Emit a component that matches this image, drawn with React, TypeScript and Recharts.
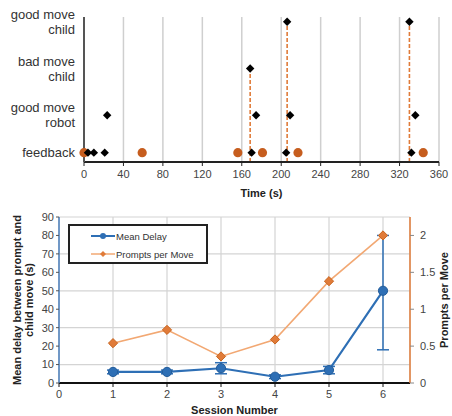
import React from 'react';
import {
  ScatterChart,
  Scatter,
  XAxis,
  YAxis,
  CartesianGrid,
  ReferenceLine,
  ComposedChart,
  Line,
  ErrorBar,
  Legend,
} from 'recharts';

// ---------- Top chart data ----------
const timeTicks = [0, 40, 80, 120, 160, 200, 240, 280, 320, 360];
const rowTicks = [0.2, 1, 2, 3];
const rowLabels: string[][] = [['feedback'], ['good move', 'robot'], ['bad move', 'child'], ['good move', 'child']];
const FEEDBACK_ROW = 0.2;
const ROBOT_ROW = 1;
const BAD_CHILD_ROW = 2;
const GOOD_CHILD_ROW = 3;
const feedbackDiamondTimes = [4, 10, 21, 170, 205, 332];
const feedbackCircleTimes = [0, 59, 156, 181, 217, 344];
const robotMoveTimes = [23.5, 174.5, 209, 336];
const badChildTimes = [168.5];
const goodChildTimes = [206, 330];

// ---------- Bottom chart data ----------
const sessions = [1, 2, 3, 4, 5, 6];
const meanDelay = [6, 6, 8, 3.4, 7, 50];
const delayErrLow = [1, 1, 3, 1, 2, 32];
const delayErrHigh = [1, 1, 3, 1, 2, 30];
const promptsPerMove = [0.54, 0.72, 0.36, 0.59, 1.38, 2.0];
const sessionTicks = [0, 1, 2, 3, 4, 5, 6];
const delayTicks = [0, 10, 20, 30, 40, 50, 60, 70, 80, 90];
const promptTicks = [0, 0.5, 1, 1.5, 2];

const FONT = '"Liberation Sans", Arial, sans-serif';
const BLUE = '#2E6FB5';
const ORANGE_LINE = '#F2A873';
const ORANGE_MARK = '#E07B39';
const ORANGE_DOT = '#C65D1E';

const toPoints = (times: number[], row: number) => times.map((t) => ({ t, row }));

const DiamondShape = (props: any) => {
  const { cx, cy } = props;
  if (cx == null || cy == null) return <g />;
  const r = 4.2;
  return (
    <polygon
      points={`${cx},${cy - r} ${cx + r},${cy} ${cx},${cy + r} ${cx - r},${cy}`}
      fill="#000"
    />
  );
};

const CircleShape = (props: any) => {
  const { cx, cy } = props;
  if (cx == null || cy == null) return <g />;
  return <circle cx={cx} cy={cy} r={4.6} fill={ORANGE_DOT} />;
};

const RowTick = (props: any) => {
  const { y, payload } = props;
  const idx = rowTicks.indexOf(payload.value);
  const lines = idx >= 0 ? rowLabels[idx] : [];
  if (lines.length === 1) {
    return (
      <text x={75} y={y + 4.6} textAnchor="end" fontSize={13} fill="#333" fontFamily={FONT}>
        {lines[0]}
      </text>
    );
  }
  return (
    <text textAnchor="end" fontSize={13} fill="#333" fontFamily={FONT}>
      <tspan x={75} y={y - 7.5 + 4.6}>{lines[0]}</tspan>
      <tspan x={75} y={y + 7.5 + 4.6}>{lines[1]}</tspan>
    </text>
  );
};

const TopChart = () => (
  <ScatterChart width={452} height={200} margin={{ top: 17, right: 13, bottom: 0, left: 0 }}>
    <CartesianGrid vertical horizontal={false} stroke="#cfcfcf" strokeWidth={1.5} />
    <XAxis
      type="number"
      dataKey="t"
      domain={[0, 360]}
      ticks={timeTicks}
      height={38}
      axisLine={{ stroke: '#222', strokeWidth: 2 }}
      tickLine={{ stroke: '#222' }}
      tickSize={4}
      tickMargin={4}
      tick={{ fontSize: 11, fill: '#444', fontFamily: FONT }}
      label={{ value: 'Time (s)', position: 'insideBottom', offset: 3, fontSize: 11, fontWeight: 'bold', fill: '#222', fontFamily: FONT }}
    />
    <YAxis
      type="number"
      dataKey="row"
      domain={[0, 3.1]}
      ticks={rowTicks}
      width={84}
      axisLine={{ stroke: '#555', strokeWidth: 2 }}
      tickLine={false}
      tick={<RowTick />}
    />
    {badChildTimes.map((t) => (
      <ReferenceLine
        key={'b' + t}
        segment={[{ x: t, y: 0 }, { x: t, y: BAD_CHILD_ROW }]}
        stroke={ORANGE_MARK}
        strokeWidth={1.6}
        strokeDasharray="4 2"
      />
    ))}
    {goodChildTimes.map((t) => (
      <ReferenceLine
        key={'g' + t}
        segment={[{ x: t, y: 0 }, { x: t, y: GOOD_CHILD_ROW }]}
        stroke={ORANGE_MARK}
        strokeWidth={1.6}
        strokeDasharray="4 2"
      />
    ))}
    <Scatter data={toPoints(feedbackCircleTimes, FEEDBACK_ROW)} shape={<CircleShape />} isAnimationActive={false} />
    <Scatter data={toPoints(feedbackDiamondTimes, FEEDBACK_ROW)} shape={<DiamondShape />} isAnimationActive={false} />
    <Scatter data={toPoints(robotMoveTimes, ROBOT_ROW)} shape={<DiamondShape />} isAnimationActive={false} />
    <Scatter data={toPoints(badChildTimes, BAD_CHILD_ROW)} shape={<DiamondShape />} isAnimationActive={false} />
    <Scatter data={toPoints(goodChildTimes, GOOD_CHILD_ROW)} shape={<DiamondShape />} isAnimationActive={false} />
  </ScatterChart>
);

const bottomData = sessions.map((s, i) => ({
  session: s,
  delay: meanDelay[i],
  err: [delayErrLow[i], delayErrHigh[i]],
  prompts: promptsPerMove[i],
}));

const BlueDot = (props: any) => {
  const { cx, cy, index } = props;
  if (cx == null || cy == null) return <g key={'bd' + index} />;
  return <circle key={'bd' + index} cx={cx} cy={cy} r={4.6} fill={BLUE} stroke="#245d9a" strokeWidth={1} />;
};

const OrangeDot = (props: any) => {
  const { cx, cy, index } = props;
  if (cx == null || cy == null) return <g key={'od' + index} />;
  const r = 4.6;
  return (
    <polygon
      key={'od' + index}
      points={`${cx},${cy - r} ${cx + r},${cy} ${cx},${cy + r} ${cx - r},${cy}`}
      fill={ORANGE_MARK}
      stroke="#c9651f"
      strokeWidth={1}
    />
  );
};

const LegendContent = () => (
  <div
    style={{
      width: 136,
      height: 36,
      border: '2px solid #222',
      background: '#fff',
      fontFamily: FONT,
      fontSize: 9.5,
      color: '#333',
      boxSizing: 'content-box',
    }}
  >
    <div style={{ display: 'flex', alignItems: 'center', height: 18, marginTop: 1 }}>
      <svg width={46} height={12} style={{ flex: 'none' }}>
        <line x1={21} y1={6} x2={45} y2={6} stroke={BLUE} strokeWidth={2} />
        <circle cx={33} cy={6} r={3} fill={BLUE} />
      </svg>
      <span>Mean Delay</span>
    </div>
    <div style={{ display: 'flex', alignItems: 'center', height: 18 }}>
      <svg width={46} height={12} style={{ flex: 'none' }}>
        <line x1={21} y1={6} x2={45} y2={6} stroke={ORANGE_LINE} strokeWidth={1.5} />
        <polygon points="33,3 36,6 33,9 30,6" fill={ORANGE_MARK} />
      </svg>
      <span>Prompts per Move</span>
    </div>
  </div>
);

const LeftLabel = (props: any) => {
  const vb = props.viewBox || {};
  const cy = (vb.y ?? 17) + (vb.height ?? 166) / 2;
  return (
    <g>
      <text
        x={21}
        y={cy}
        transform={`rotate(-90, 21, ${cy})`}
        textAnchor="middle"
        fontSize={11}
        fontWeight="bold"
        fill="#222"
        fontFamily={FONT}
      >
        Mean delay between prompt and
      </text>
      <text
        x={33}
        y={cy}
        transform={`rotate(-90, 33, ${cy})`}
        textAnchor="middle"
        fontSize={11}
        fontWeight="bold"
        fill="#222"
        fontFamily={FONT}
      >
        child move (s)
      </text>
    </g>
  );
};

const RightLabel = (props: any) => {
  const vb = props.viewBox || {};
  const cy = (vb.y ?? 17) + (vb.height ?? 166) / 2;
  return (
    <text
      x={448}
      y={cy}
      transform={`rotate(-90, 448, ${cy})`}
      textAnchor="middle"
      fontSize={11}
      fontWeight="bold"
      fill="#222"
      fontFamily={FONT}
    >
      Prompts per Move
    </text>
  );
};

const BottomChart = () => (
  <ComposedChart width={452} height={216} data={bottomData} margin={{ top: 17, right: 0, bottom: 0, left: 0 }}>
    <CartesianGrid yAxisId="left" stroke="#d4d4d4" strokeWidth={1.2} />
    <XAxis
      type="number"
      dataKey="session"
      domain={[0, 6.5]}
      ticks={sessionTicks}
      height={33}
      axisLine={{ stroke: '#111', strokeWidth: 2 }}
      tickLine={{ stroke: '#111' }}
      tickSize={4}
      tickMargin={3}
      tick={{ fontSize: 11, fill: '#444', fontFamily: FONT }}
      label={{ value: 'Session Number', position: 'insideBottom', offset: 2, fontSize: 11, fontWeight: 'bold', fill: '#222', fontFamily: FONT }}
    />
    <YAxis
      yAxisId="left"
      type="number"
      domain={[0, 90]}
      ticks={delayTicks}
      width={59}
      axisLine={{ stroke: '#4a7ebb', strokeWidth: 1.5 }}
      tickLine={{ stroke: '#555' }}
      tickSize={3}
      tickMargin={2}
      tick={{ fontSize: 11, fill: '#444', fontFamily: FONT }}
      label={{ content: <LeftLabel /> }}
    />
    <YAxis
      yAxisId="right"
      orientation="right"
      type="number"
      domain={[0, 2.25]}
      ticks={promptTicks}
      width={42}
      axisLine={{ stroke: ORANGE_MARK, strokeWidth: 1.5 }}
      tickLine={{ stroke: '#888' }}
      tickSize={4}
      tickMargin={6}
      tick={{ fontSize: 11, fill: '#444', fontFamily: FONT }}
      label={{ content: <RightLabel /> }}
    />
    <Legend
      layout="vertical"
      align="center"
      verticalAlign="middle"
      content={<LegendContent />}
      wrapperStyle={{ position: 'absolute', left: 68, top: 24, width: 140, height: 40 }}
    />
    <Line
      yAxisId="right"
      dataKey="prompts"
      name="Prompts per Move"
      stroke={ORANGE_LINE}
      strokeWidth={1.6}
      dot={OrangeDot}
      activeDot={false}
      isAnimationActive={false}
    />
    <Line
      yAxisId="left"
      dataKey="delay"
      name="Mean Delay"
      stroke={BLUE}
      strokeWidth={2.2}
      dot={BlueDot}
      activeDot={false}
      isAnimationActive={false}
    >
      <ErrorBar dataKey="err" direction="y" width={6} stroke={BLUE} strokeWidth={1.5} />
    </Line>
  </ComposedChart>
);

export default function App() {
  return (
    <div
      style={{
        position: 'absolute',
        left: 0,
        top: 0,
        width: 452,
        height: 416,
        background: '#fff',
        fontFamily: FONT,
        overflow: 'hidden',
      }}
    >
      <div style={{ position: 'absolute', left: 0, top: 0 }}>
        <TopChart />
      </div>
      <div style={{ position: 'absolute', left: 0, top: 200 }}>
        <BottomChart />
      </div>
    </div>
  );
}
